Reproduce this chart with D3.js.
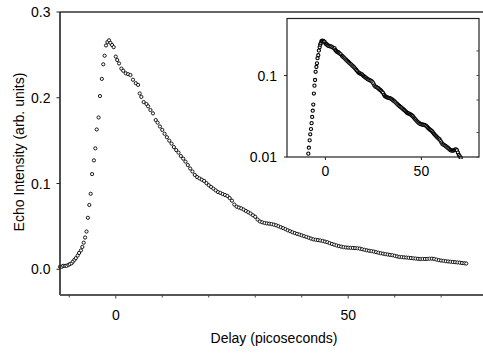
<!DOCTYPE html>
<html>
<head>
<meta charset="utf-8">
<script src="https://cdn.jsdelivr.net/npm/d3@7"></script>
<style>
  body { margin: 0; background: #fff; }
  svg { display: block; font-family: Arial, "Liberation Sans", sans-serif; }
  .dot { fill: #fff; stroke: #000; stroke-width: 0.9px; }
  .inset-dot { fill: #fff; stroke: #000; stroke-width: 1.1px; }
  .tick-label { font-size: 14px; fill: #000; }
  .axis-title { font-size: 14px; fill: #000; }
</style>
</head>
<body>
<svg></svg>
<script>
var width = 483;
var height = 353;

// delay (ps) and echo intensity
var delay = [-12.0, -11.6, -11.3, -10.9, -10.6, -10.2, -9.9, -9.5, -9.2, -8.9, -8.6, -8.2, -7.9, -7.5, -7.2, -6.9, -6.6, -6.3,
  -6.0, -5.7, -5.4, -5.1, -4.7, -4.4, -4.1, -3.7, -3.4, -3.0, -2.7, -2.4, -2.1, -1.8, -1.45, -1.15, -0.8, -0.45,
  0.0, 0.3, 0.7, 1.2, 1.6, 2.15, 2.65, 3.15, 3.7, 4.3, 4.8, 5.15, 5.5, 6.0, 6.6, 6.95, 7.45, 8.0, 8.6,
  9.0, 9.5, 10.0, 10.5, 11.0, 11.5, 12.0, 12.5, 13.0, 13.5, 14.0, 14.5, 15.0, 15.5, 16.0, 16.5, 17.0, 17.5,
  18.0, 18.5, 19.0, 19.5, 20.0, 20.5, 21.0, 21.5, 22.0, 22.5, 23.0, 23.5, 24.0, 24.5, 25.0, 25.5, 26.0, 26.5,
  27.0, 27.5, 28.0, 28.5, 29.0, 29.5, 30.0, 30.5, 31.0, 31.5, 32.0, 32.5, 33.0, 33.5, 34.0, 34.5, 35.0, 35.5,
  36.0, 36.5, 37.0, 37.5, 38.0, 38.5, 39.0, 39.5, 40.0, 40.5, 41.0, 41.5, 42.0, 42.5, 43.0, 43.5, 44.0, 44.5,
  45.0, 45.5, 46.0, 46.5, 47.0, 47.5, 48.0, 48.5, 49.0, 49.5, 50.0, 50.5, 51.0, 51.5, 52.0, 52.5, 53.0, 53.5,
  54.0, 54.5, 55.0, 55.5, 56.0, 56.5, 57.0, 57.5, 58.0, 58.5, 59.0, 59.5, 60.0, 60.5, 61.0, 61.5, 62.0, 62.5,
  63.0, 63.5, 64.0, 64.5, 65.0, 65.5, 66.0, 66.5, 67.0, 67.5, 68.0, 68.5, 69.0, 69.5, 70.0, 70.5, 71.0, 71.5,
  72.0, 72.5, 73.0, 73.5, 74.0, 74.5, 75.0, 75.4];

var echo = [0.003, 0.003, 0.004, 0.004, 0.004, 0.005, 0.006, 0.007, 0.009, 0.011, 0.013, 0.016, 0.019, 0.022, 0.026, 0.031, 0.037, 0.044,
  0.060, 0.075, 0.088, 0.111, 0.127, 0.141, 0.163, 0.177, 0.202, 0.222, 0.239, 0.249, 0.261, 0.265, 0.267, 0.264, 0.2615, 0.259,
  0.248, 0.244, 0.240, 0.234, 0.2315, 0.2285, 0.2275, 0.2265, 0.221, 0.217, 0.215, 0.205, 0.201, 0.195, 0.1927, 0.190, 0.1857, 0.1818, 0.174,
  0.171, 0.1665, 0.1625, 0.158, 0.154, 0.150, 0.1465, 0.1425, 0.139, 0.136, 0.132, 0.129, 0.1255, 0.1215, 0.1175, 0.114, 0.110, 0.1075,
  0.106, 0.1045, 0.103, 0.1005, 0.098, 0.096, 0.094, 0.092, 0.090, 0.089, 0.0877, 0.0866, 0.0855, 0.083, 0.080, 0.0755, 0.073, 0.072,
  0.071, 0.0697, 0.068, 0.0665, 0.065, 0.063, 0.0612, 0.058, 0.0558, 0.0548, 0.054, 0.0535, 0.0531, 0.0527, 0.0521, 0.0513, 0.0502, 0.049,
  0.048, 0.0468, 0.0455, 0.0444, 0.0432, 0.0422, 0.0413, 0.0405, 0.0396, 0.0386, 0.0377, 0.0368, 0.0358, 0.0349, 0.0344, 0.034, 0.0336, 0.033,
  0.0323, 0.0316, 0.0305, 0.0295, 0.0287, 0.0278, 0.027, 0.0264, 0.0258, 0.0254, 0.0252, 0.025, 0.0249, 0.0247, 0.0245, 0.0241, 0.0234, 0.0227,
  0.0221, 0.0216, 0.0212, 0.0207, 0.020, 0.0193, 0.0187, 0.0182, 0.0177, 0.0172, 0.0168, 0.0164, 0.0157, 0.015, 0.0144, 0.0142, 0.0139, 0.0137,
  0.0134, 0.0131, 0.0128, 0.0125, 0.0122, 0.012, 0.012, 0.012, 0.0121, 0.0123, 0.0124, 0.0121, 0.0113, 0.0106, 0.0102, 0.0098, 0.0094, 0.0091,
  0.0088, 0.0085, 0.0083, 0.008, 0.0077, 0.0073, 0.007, 0.0067];

var x_major = [0, 50];
var x_minor = [-10, 10, 20, 30, 40, 60, 70];
var y_ticks = [0.0, 0.1, 0.2, 0.3];
var inset_x_ticks = [0, 50];
var inset_y_ticks = [0.01, 0.1];

var points = delay.map(function(t, i) { return { t: t, v: echo[i] }; });

var svg = d3.select("svg")
    .attr("width", width)
    .attr("height", height);

// main panel
var x = d3.scaleLinear().domain([-12, 79]).range([60, 483]);
var y = d3.scaleLinear().domain([-0.03, 0.3]).range([295, 12]);

var main = svg.append("g");

main.append("line")
    .attr("x1", x.range()[0]).attr("x2", x.range()[1])
    .attr("y1", y(0.3)).attr("y2", y(0.3))
    .attr("stroke", "#333").attr("stroke-width", 1.3);

main.selectAll(".dot")
    .data(points)
  .enter().append("circle")
    .attr("class", "dot")
    .attr("cx", function(d) { return x(d.t); })
    .attr("cy", function(d) { return y(d.v); })
    .attr("r", 1.6);

// axes lines
main.append("line")
    .attr("x1", 60).attr("x2", 60)
    .attr("y1", y.range()[1]).attr("y2", y.range()[0])
    .attr("stroke", "#222").attr("stroke-width", 1.6);
main.append("line")
    .attr("x1", 60).attr("x2", x.range()[1])
    .attr("y1", y.range()[0]).attr("y2", y.range()[0])
    .attr("stroke", "#555").attr("stroke-width", 1.8);

main.selectAll(".xmajor")
    .data(x_major)
  .enter().append("line")
    .attr("x1", function(d) { return x(d); }).attr("x2", function(d) { return x(d); })
    .attr("y1", 295).attr("y2", 298.5)
    .attr("stroke", "#444").attr("stroke-width", 1);
main.selectAll(".xminor")
    .data(x_minor)
  .enter().append("line")
    .attr("x1", function(d) { return x(d); }).attr("x2", function(d) { return x(d); })
    .attr("y1", 295).attr("y2", 297.5)
    .attr("stroke", "#444").attr("stroke-width", 1);

main.selectAll(".xlabel")
    .data(x_major)
  .enter().append("text")
    .attr("class", "tick-label")
    .attr("x", function(d) { return x(d); })
    .attr("y", 320)
    .attr("text-anchor", "middle")
    .text(function(d) { return d; });

main.selectAll(".ytick")
    .data(y_ticks)
  .enter().append("line")
    .attr("x1", 56.5).attr("x2", 60)
    .attr("y1", function(d) { return y(d); }).attr("y2", function(d) { return y(d); })
    .attr("stroke", "#222").attr("stroke-width", 1);

main.selectAll(".ylabel")
    .data(y_ticks)
  .enter().append("text")
    .attr("class", "tick-label")
    .attr("x", 50.5)
    .attr("y", function(d) { return y(d); })
    .attr("dy", "0.36em")
    .attr("text-anchor", "end")
    .text(function(d) { return d.toFixed(1); });

main.append("text")
    .attr("class", "axis-title")
    .attr("x", 274).attr("y", 343)
    .attr("text-anchor", "middle")
    .text("Delay (picoseconds)");

main.append("text")
    .attr("class", "axis-title")
    .attr("transform", "translate(24,152) rotate(-90)")
    .attr("text-anchor", "middle")
    .text("Echo Intensity (arb. units)");

// inset, log scale
var ix = d3.scaleLinear().domain([-20, 80]).range([287, 479]);
var iy = d3.scaleLog().domain([0.01, 0.5]).range([157, 18.5]);

var inset = svg.append("g");

inset.append("rect")
    .attr("x", 287).attr("y", 18.5)
    .attr("width", 479 - 287).attr("height", 157 - 18.5)
    .attr("fill", "#fff");

inset.append("clipPath")
    .attr("id", "inset-clip")
  .append("rect")
    .attr("x", 287).attr("y", 15)
    .attr("width", 479 - 287).attr("height", 157 - 15 + 2);

inset.append("g")
    .attr("clip-path", "url(#inset-clip)")
  .selectAll(".inset-dot")
    .data(points.filter(function(d) { return d.v >= 0.0095; }))
  .enter().append("circle")
    .attr("class", "inset-dot")
    .attr("cx", function(d) { return ix(d.t); })
    .attr("cy", function(d) { return iy(d.v); })
    .attr("r", 1.6);

inset.append("rect")
    .attr("x", 287).attr("y", 18.5)
    .attr("width", 479 - 287).attr("height", 157 - 18.5)
    .attr("fill", "none")
    .attr("stroke", "#222").attr("stroke-width", 1.2);

inset.selectAll(".ixtick")
    .data(inset_x_ticks)
  .enter().append("line")
    .attr("x1", function(d) { return ix(d); }).attr("x2", function(d) { return ix(d); })
    .attr("y1", 157).attr("y2", 160)
    .attr("stroke", "#222").attr("stroke-width", 1);

inset.selectAll(".ixlabel")
    .data(inset_x_ticks)
  .enter().append("text")
    .attr("class", "tick-label")
    .attr("x", function(d) { return ix(d); })
    .attr("y", 176)
    .attr("text-anchor", "middle")
    .text(function(d) { return d; });

inset.selectAll(".iytick")
    .data(inset_y_ticks)
  .enter().append("line")
    .attr("x1", 284).attr("x2", 287)
    .attr("y1", function(d) { return iy(d); }).attr("y2", function(d) { return iy(d); })
    .attr("stroke", "#222").attr("stroke-width", 1);

// small ticks on the right edge of the inset
inset.selectAll(".iyright")
    .data(inset_y_ticks.concat([0.2, 0.05, 0.02]))
  .enter().append("line")
    .attr("x1", 476.5).attr("x2", 479)
    .attr("y1", function(d) { return iy(d); }).attr("y2", function(d) { return iy(d); })
    .attr("stroke", "#444").attr("stroke-width", 1);

inset.selectAll(".iylabel")
    .data(inset_y_ticks)
  .enter().append("text")
    .attr("class", "tick-label")
    .attr("x", 277)
    .attr("y", function(d) { return iy(d); })
    .attr("dy", "0.36em")
    .attr("text-anchor", "end")
    .text(function(d) { return d; });
</script>
</body>
</html>
